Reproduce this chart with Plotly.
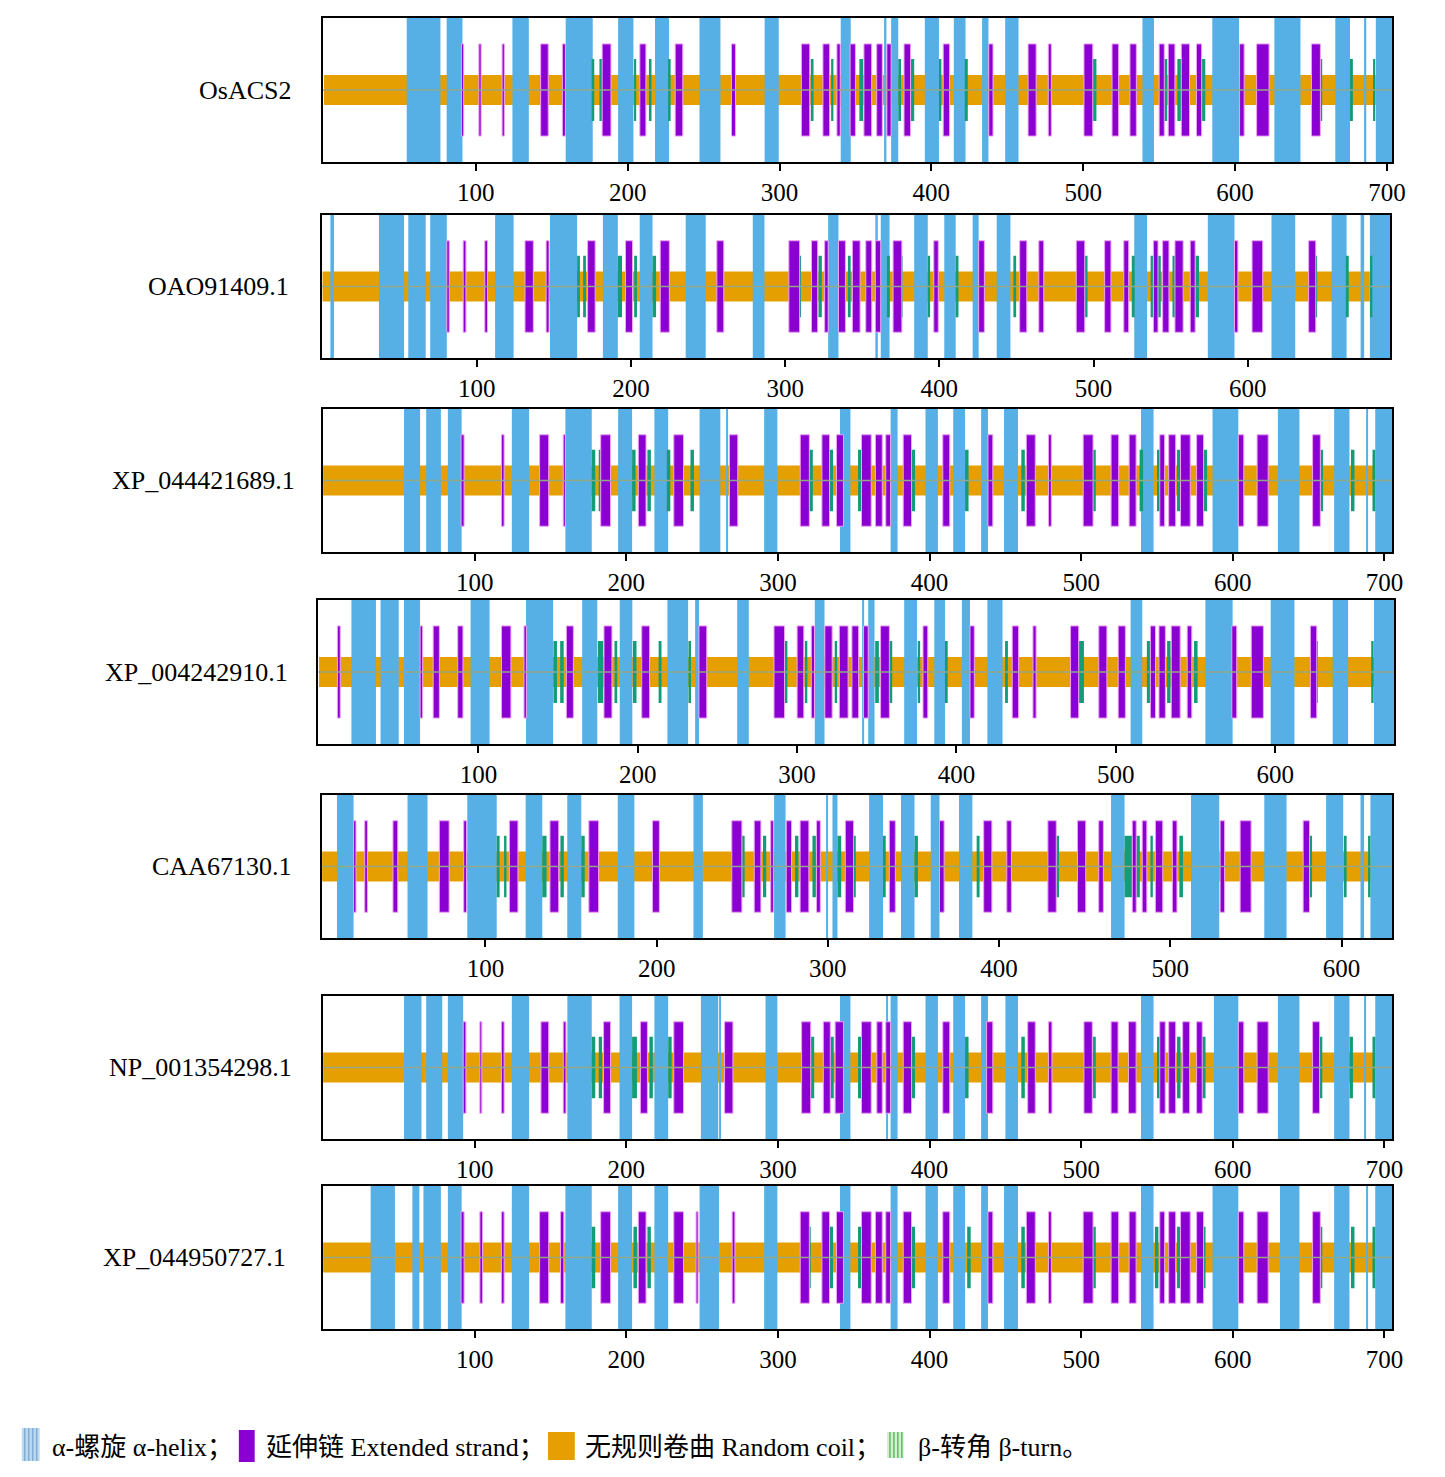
import plotly.graph_objects as go

W, H = 1445, 1477

# ---- data (residue positions) ----
NAMES = ["OsACS2", "OAO91409.1", "XP_044421689.1", "XP_004242910.1",
         "CAA67130.1", "NP_001354298.1", "XP_044950727.1"]
TICKS = [100, 200, 300, 400, 500, 600, 700]

# visible residue window of each panel
RANGES = [(-0.6, 703.6), (-0.3, 692.5), (0, 705.2), (-0.6, 674.8),
          (4.6, 629.7), (0, 705.2), (0, 705.2)]
# random coil band (start, end)
COIL = [(0, 692.7), (0, 679.2), (0, 693.9), (0, 662.0),
        (4.6, 616.9), (0, 693.9), (0, 693.9)]

osacs2_helix = [(54.5, 76.7), (80.8, 91.2), (124.1, 134.9), (159.2, 177.0), (193.7, 203.8),
                (218.0, 227.2), (247.3, 261.1), (290.2, 299.5), (340.3, 346.9), (369.5, 370.4),
                (373.5, 378.2), (395.7, 405.0), (414.8, 422.5), (433.4, 437.6), (448.6, 457.4),
                (539.0, 546.6), (585.0, 602.6), (625.9, 643.1), (666.0, 675.7), (685.6, 686.4),
                (692.7, 704.4)]
osacs2_strand = [(90.5, 92.0), (102.0, 103.5), (117.3, 118.8), (142.7, 147.7), (157.0, 159.0),
                 (183.2, 189.0), (208.0, 212.0), (231.3, 236.3), (268.4, 271.0), (314.4, 319.9),
                 (328.6, 333.0), (337.8, 340.0), (346.5, 350.0), (355.6, 360.7), (364.0, 367.7),
                 (370.7, 373.5), (382.0, 386.3), (407.8, 412.0), (437.8, 440.6), (463.7, 469.0),
                 (477.0, 479.0), (500.5, 506.3), (519.0, 523.3), (530.8, 535.0), (550.0, 553.4),
                 (556.0, 560.4), (564.6, 570.0), (574.6, 578.0), (603.0, 606.0), (614.2, 622.4),
                 (650.3, 656.2)]
osacs2_turn = [(176.3, 178.0), (181.4, 183.2), (204.3, 205.6), (214.0, 215.7), (227.2, 228.3),
               (320.6, 322.4), (334.0, 335.5), (352.6, 355.0), (378.2, 380.0), (386.3, 388.7),
               (405.0, 406.6), (422.0, 424.0), (506.3, 508.7), (553.0, 555.3), (562.0, 564.6),
               (578.0, 580.4), (656.2, 657.4), (675.7, 677.6), (691.0, 692.3)]

oao_helix = [(5.1, 7.4), (36.6, 52.9), (55.6, 66.9), (69.8, 80.6), (111.9, 123.9),
             (147.5, 165.1), (181.8, 191.5), (205.7, 214.0), (235.5, 248.5), (279.0, 286.6),
             (327.9, 334.6), (358.5, 360.1), (362.0, 367.7), (383.7, 392.5), (403.2, 410.6),
             (421.6, 425.5), (437.2, 446.1), (526.4, 534.7), (574.1, 591.4), (615.4, 630.8),
             (654.4, 664.1), (673.2, 675.5), (679.2, 692.5)]
oao_strand = [(80.6, 82.2), (91.2, 93.0), (105.2, 107.0), (131.3, 136.7), (145.0, 146.9),
              (171.9, 176.8), (196.5, 201.0), (219.0, 224.9), (255.7, 260.2), (302.4, 309.4),
              (317.1, 321.1), (325.6, 327.9), (334.6, 339.1), (343.6, 348.6), (352.3, 356.2),
              (358.5, 362.0), (370.0, 375.7), (396.4, 399.3), (425.5, 429.2), (452.1, 456.7),
              (464.5, 467.7), (488.8, 494.3), (507.2, 511.3), (519.6, 522.8), (538.8, 541.8),
              (544.8, 548.9), (552.8, 558.1), (562.7, 565.9), (591.4, 593.6), (602.8, 609.7),
              (639.5, 644.1)]
oao_turn = [(165.1, 166.9), (169.0, 170.8), (191.5, 194.2), (202.1, 203.9), (214.0, 216.3),
            (308.7, 310.3), (321.6, 323.8), (340.7, 342.5), (366.0, 367.9), (373.9, 376.2),
            (392.5, 394.0), (410.6, 412.4), (448.0, 449.8), (494.3, 496.1), (524.8, 526.7),
            (537.0, 538.8), (541.8, 543.6), (551.2, 553.0), (566.1, 568.4), (643.7, 645.0),
            (663.6, 665.5), (679.7, 680.8)]

xp421_helix = [(53.4, 64.0), (68.0, 77.7), (82.3, 91.4), (124.5, 135.9), (159.8, 177.2),
               (194.6, 203.8), (218.5, 227.6), (248.3, 262.0), (266.2, 267.0), (290.9, 299.6),
               (340.9, 347.8), (374.3, 378.9), (397.3, 405.5), (415.6, 423.4), (434.0, 438.5),
               (449.1, 458.3), (539.4, 547.7), (586.6, 603.6), (629.7, 643.9), (666.8, 676.9),
               (688.0, 688.8), (693.9, 705.2)]
xp421_strand = [(91.0, 93.0), (117.6, 119.4), (142.8, 148.8), (158.4, 159.8), (183.1, 189.6),
                (207.9, 213.0), (231.3, 237.7), (268.0, 273.5), (314.7, 320.7), (329.0, 334.0),
                (338.6, 343.2), (355.1, 361.5), (364.3, 368.8), (371.1, 374.3), (382.6, 388.1),
                (408.7, 413.3), (438.5, 441.7), (463.8, 469.7), (478.4, 480.3), (501.3, 507.8),
                (519.7, 524.7), (531.6, 536.2), (551.8, 555.0), (557.7, 562.3), (565.5, 571.9),
                (576.1, 580.7), (603.6, 607.2), (616.0, 623.3), (652.6, 657.7)]
xp421_turn = [(177.2, 179.5), (181.8, 184.0), (203.8, 206.1), (213.9, 216.2), (226.7, 229.0),
              (242.3, 244.6), (320.7, 323.0), (334.0, 336.3), (352.8, 355.1), (388.1, 390.4),
              (423.4, 425.7), (460.5, 462.8), (507.8, 509.6), (538.5, 540.8), (550.0, 552.7),
              (563.2, 565.5), (580.7, 583.0), (657.7, 659.5), (677.9, 680.2), (692.1, 693.9)]

xp910_helix = [(20.3, 35.7), (38.6, 50.0), (53.3, 63.4), (95.1, 107.0), (129.9, 146.9),
               (165.1, 174.6), (188.7, 196.6), (218.6, 231.6), (236.0, 238.4), (262.4, 269.7),
               (311.1, 317.2), (340.8, 341.8), (344.6, 348.6), (367.2, 375.2), (386.1, 392.8),
               (403.4, 408.5), (419.4, 428.9), (509.3, 516.6), (556.2, 573.3), (597.2, 612.1),
               (636.1, 645.8), (662.0, 674.8)]
xp910_strand = [(11.5, 13.3), (63.4, 65.0), (71.6, 75.5), (87.0, 90.3), (114.5, 120.4),
                (128.6, 130.1), (155.2, 159.6), (178.8, 183.8), (202.5, 207.4), (238.4, 243.3),
                (285.5, 292.1), (300.0, 304.2), (308.9, 310.9), (317.4, 322.0), (326.5, 332.0),
                (334.4, 338.6), (341.7, 344.6), (352.4, 357.9), (379.0, 382.0), (408.5, 411.2),
                (435.0, 439.0), (448.0, 450.0), (471.6, 476.7), (489.3, 494.4), (501.5, 506.0),
                (521.7, 524.9), (527.1, 531.1), (534.8, 540.4), (544.8, 547.7), (572.8, 575.9),
                (585.0, 592.6), (622.1, 626.1)]
xp910_turn = [(147.1, 149.3), (151.3, 153.5), (175.0, 178.3), (185.4, 187.1), (197.0, 199.2),
              (213.1, 214.9), (231.8, 233.4), (291.7, 293.9), (304.9, 306.4), (323.6, 325.1),
              (349.0, 351.3), (357.5, 359.7), (375.7, 377.2), (392.8, 394.5), (430.5, 432.3),
              (476.7, 480.0), (519.5, 521.7), (532.2, 534.4), (549.1, 551.3), (625.4, 626.8),
              (660.3, 661.8)]

caa_helix = [(13.3, 23.0), (54.5, 66.2), (89.4, 106.6), (123.5, 133.2), (147.8, 156.0),
             (177.3, 187.0), (221.5, 227.0), (268.6, 275.3), (299.3, 300.1), (302.7, 305.6),
             (324.1, 332.2), (342.7, 350.6), (360.1, 365.2), (376.6, 384.4), (465.4, 473.3),
             (512.1, 528.6), (554.9, 567.9), (591.0, 601.0), (611.1, 613.2), (616.9, 629.7)]
caa_strand = [(23.0, 24.4), (29.5, 31.1), (46.0, 48.8), (73.1, 78.8), (87.3, 89.0),
              (114.0, 119.0), (137.7, 142.8), (160.4, 166.1), (197.6, 201.6), (243.9, 249.8),
              (257.0, 260.9), (266.6, 268.2), (275.7, 278.8), (283.8, 288.9), (293.4, 295.6),
              (310.2, 315.0), (335.9, 339.4), (365.2, 367.9), (391.0, 395.8), (404.5, 407.2),
              (428.5, 433.4), (445.8, 450.6), (458.2, 460.9), (477.8, 480.1), (483.6, 486.3),
              (491.3, 495.6), (501.2, 503.9), (529.1, 531.7), (540.8, 547.2), (577.6, 581.3)]
caa_turn = [(106.6, 108.3), (110.9, 112.3), (133.2, 135.7), (143.8, 145.8), (156.0, 158.0),
            (249.8, 251.4), (262.1, 264.0), (280.8, 282.8), (291.0, 293.0), (305.6, 307.8),
            (314.2, 316.3), (332.2, 333.8), (350.6, 352.6), (386.9, 388.6), (433.4, 435.0),
            (473.3, 477.8), (480.1, 482.2), (488.4, 489.8), (505.3, 507.4), (581.3, 582.8),
            (601.4, 603.0), (615.8, 616.9)]

np_helix = [(53.4, 64.9), (68.0, 78.6), (82.3, 92.4), (124.5, 135.9), (161.1, 177.2),
            (195.5, 203.8), (218.5, 227.6), (249.2, 260.6), (261.6, 262.4), (291.8, 299.6),
            (340.9, 347.8), (371.6, 372.4), (374.3, 378.9), (397.3, 405.5), (415.6, 423.4),
            (434.0, 438.5), (450.0, 458.3), (539.4, 547.7), (587.5, 603.6), (629.7, 643.9),
            (666.8, 676.9), (687.1, 687.9), (693.9, 705.2)]
np_strand = [(92.4, 94.2), (103.4, 104.7), (117.6, 119.4), (143.7, 148.8), (158.4, 160.2),
             (185.0, 189.6), (209.3, 213.9), (231.3, 237.7), (264.8, 270.3), (315.6, 321.6),
             (329.9, 334.5), (337.7, 343.2), (355.1, 361.5), (365.2, 368.8), (371.1, 374.3),
             (382.6, 388.1), (408.7, 413.3), (437.6, 441.7), (464.7, 469.7), (478.4, 480.7),
             (501.8, 507.3), (519.7, 524.3), (531.2, 536.2), (551.8, 555.4), (557.7, 562.3),
             (566.9, 571.5), (576.1, 579.8), (603.6, 607.2), (616.0, 623.3), (652.6, 657.2)]
np_turn = [(177.2, 179.5), (181.8, 184.0), (203.8, 207.0), (215.2, 217.5), (227.6, 229.9),
           (321.6, 323.9), (334.5, 336.8), (352.8, 355.1), (388.1, 390.4), (423.4, 425.7),
           (460.5, 462.8), (507.8, 509.6), (550.0, 552.7), (563.2, 565.5), (579.8, 582.0),
           (657.2, 659.0), (677.0, 679.2), (692.1, 693.9)]

xp727_helix = [(31.4, 47.4), (58.9, 63.5), (66.2, 77.7), (82.3, 91.4), (124.5, 135.9),
               (159.8, 177.2), (194.6, 203.8), (218.5, 227.6), (248.3, 261.1), (290.9, 299.6),
               (340.9, 347.8), (374.3, 378.9), (397.3, 405.5), (415.6, 423.4), (434.0, 438.5),
               (449.1, 458.3), (539.4, 547.7), (586.6, 603.6), (631.1, 643.9), (666.8, 676.9),
               (688.0, 688.8), (693.9, 705.2)]
xp727_strand = [(91.0, 93.0), (103.4, 105.2), (117.6, 119.4), (142.8, 148.8), (156.6, 158.8),
                (183.1, 189.6), (207.9, 213.0), (231.3, 237.7), (246.0, 247.3), (269.8, 271.6),
                (314.7, 320.7), (329.0, 334.0), (338.6, 343.2), (355.1, 361.5), (364.3, 368.8),
                (371.1, 374.3), (382.6, 388.1), (408.7, 413.3), (438.5, 441.7), (463.8, 469.7),
                (478.4, 480.3), (501.3, 507.8), (519.7, 524.7), (531.6, 536.2), (551.8, 555.0),
                (557.7, 562.3), (565.5, 571.9), (576.1, 580.7), (603.6, 607.2), (616.0, 623.3),
                (652.6, 657.7)]
xp727_turn = [(177.2, 179.5), (204.7, 207.0), (213.9, 216.2), (319.3, 321.6), (334.0, 336.3),
              (352.8, 355.1), (388.1, 390.4), (424.8, 427.1), (460.5, 462.8), (507.8, 509.6),
              (548.6, 550.9), (563.2, 565.5), (579.8, 582.0), (657.2, 659.0), (677.9, 680.2),
              (692.1, 693.9)]

HELIX = [osacs2_helix, oao_helix, xp421_helix, xp910_helix, caa_helix, np_helix, xp727_helix]
STRAND = [osacs2_strand, oao_strand, xp421_strand, xp910_strand, caa_strand, np_strand, xp727_strand]
TURN = [osacs2_turn, oao_turn, xp421_turn, xp910_turn, caa_turn, np_turn, xp727_turn]

# ---- layout of the panels (pixel boxes: left, right, top, bottom) ----
BOXES = [(326, 1405, 18, 162), (325, 1403, 215, 358), (326, 1405, 409, 552),
         (321, 1407, 600, 744), (325, 1405, 795, 938), (326, 1405, 996, 1139),
         (326, 1405, 1186, 1329)]
LABEL_RIGHT = [296, 294, 300, 293, 296, 297, 291]

C_HELIX = "#56B0E6"
C_STRAND = "#8A00D2"
C_COIL = "#E69F00"
C_TURN = "#139C78"
C_MID = "#93A986"

SERIF = "Liberation Serif, Times New Roman, serif"
LEGEND_FONT = "Liberation Serif, Noto Sans CJK SC, serif"


def seg_bars(segs, lo, hi, color, xa, ya, line_color=None):
    return go.Bar(
        x=[(s + e) / 2 for s, e in segs],
        y=[hi - lo] * len(segs),
        base=lo,
        width=[e - s for s, e in segs],
        marker=dict(color=color,
                    line=dict(color=line_color or color, width=1 if line_color else 0)),
        xaxis=xa, yaxis=ya, hoverinfo="skip", showlegend=False,
    )


fig = go.Figure()
layout = {}
annotations = []

for i in range(7):
    n = "" if i == 0 else str(i + 1)
    xa, ya = "x" + n, "y" + n
    left, right, top, bottom = BOXES[i]
    x0, x1 = RANGES[i]

    # random coil band first, then helix, turn, strand on top
    fig.add_trace(seg_bars([COIL[i]], 0.395, 0.605, C_COIL, xa, ya))
    fig.add_trace(seg_bars(HELIX[i], 0, 1, C_HELIX, xa, ya))
    fig.add_trace(seg_bars(TURN[i], 0.285, 0.715, C_TURN, xa, ya))
    fig.add_trace(seg_bars(STRAND[i], 0.18, 0.82, C_STRAND, xa, ya, line_color="#EFA3F2"))
    fig.add_trace(go.Scatter(
        x=[x0, x1], y=[0.5, 0.5], mode="lines",
        line=dict(color=C_MID, width=1.5),
        xaxis=xa, yaxis=ya, hoverinfo="skip", showlegend=False))

    layout["xaxis" + n] = dict(
        domain=[left / W, right / W], range=[x0, x1], anchor=ya,
        showline=True, mirror=True, linecolor="black", linewidth=2,
        ticks="outside", ticklen=7, tickwidth=2, tickcolor="black",
        tickvals=TICKS, tickfont=dict(family=SERIF, size=25, color="black"),
        showgrid=False, zeroline=False, fixedrange=True)
    layout["yaxis" + n] = dict(
        domain=[1 - bottom / H, 1 - top / H], range=[0, 1], anchor=xa,
        showline=True, mirror=True, linecolor="black", linewidth=2,
        showticklabels=False, ticks="", showgrid=False, zeroline=False,
        fixedrange=True)

    annotations.append(dict(
        text=NAMES[i], xref="paper", yref="paper",
        x=LABEL_RIGHT[i] / W, y=1 - (top + bottom) / 2 / H,
        xanchor="right", yanchor="middle", showarrow=False,
        font=dict(family=SERIF, size=26, color="black")))

# ---- legend row ----
LEG_Y = 1447
legend_texts = [(50, "α-螺旋 α-helix；"), (266, "延伸链 Extended strand；"),
                (588, "无规则卷曲 Random coil；"), (924, "β-转角 β-turn。")]
for x, t in legend_texts:
    annotations.append(dict(
        text=t, xref="paper", yref="paper", x=x / W, y=1 - LEG_Y / H,
        xanchor="left", yanchor="middle", showarrow=False,
        font=dict(family=LEGEND_FONT, size=26, color="black")))


def prect(x0, x1, y0, y1, color):
    return dict(type="rect", xref="paper", yref="paper", layer="above",
                x0=x0 / W, x1=x1 / W, y0=1 - y1 / H, y1=1 - y0 / H,
                fillcolor=color, line=dict(width=0))


def pline(x, y0, y1, color, width=1.5):
    return dict(type="line", xref="paper", yref="paper", layer="above",
                x0=x / W, x1=x / W, y0=1 - y1 / H, y1=1 - y0 / H,
                line=dict(color=color, width=width))


shapes = [prect(22, 40, 1428, 1461, "#BCD8EE")]
shapes += [pline(x, 1428, 1461, "#7FAFD6") for x in (25, 29, 33, 37)]
shapes.append(prect(241, 257, 1430, 1462, C_STRAND))
shapes.append(prect(553, 580, 1432, 1460, C_COIL))
shapes.append(prect(895, 912, 1432, 1458, "#D5EED2"))
shapes += [pline(x, 1432, 1458, "#5DBB63") for x in (898, 902, 906, 910)]

fig.update_layout(
    width=W, height=H, margin=dict(l=0, r=0, t=0, b=0),
    paper_bgcolor="white", plot_bgcolor="white",
    barmode="overlay", showlegend=False,
    annotations=annotations, shapes=shapes, **layout)

# drop the browser's default page margin and scrollbars so the figure fills the window
fig.write_html(
    "out.html",
    config={"displayModeBar": False},
    post_script="document.body.style.margin='0px';"
                "document.body.style.overflow='hidden';"
                "document.documentElement.style.overflow='hidden';")
